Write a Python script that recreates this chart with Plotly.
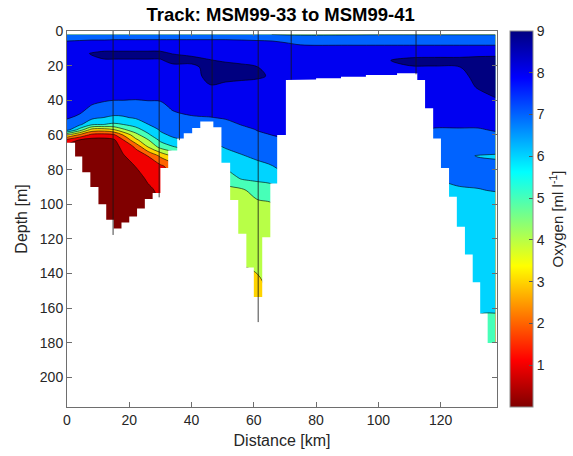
import numpy as np
import plotly.graph_objects as go

# ---------------- data ----------------
distance_km = [0, 4, 8, 12, 15, 18, 22, 26, 30, 34, 40, 46, 51, 56, 61, 66,
               75, 90, 102, 110, 118, 126, 132, 137.6]
depth_m = [2, 4, 7, 10, 13, 17, 21, 26, 32, 38, 44, 50, 54, 57, 60, 63, 67,
           72, 78, 85, 92, 100, 115, 135, 150, 165, 182]

# one oxygen profile (ml/l) per distance, values at depth_m
oxygen_profiles = [
    [7.6, 7.7, 8.2, 8.6, 8.7, 8.75, 8.8, 8.85, 8.8, 8.7, 8.5, 8.1, 7.6, 7.4, 4.05, 1.6, 0.6, 0.45, 0.4, 0.4, 0.4, 0.4, 0.4, 0.4, 0.4, 0.4, 0.4],
    [7.6, 7.75, 8.25, 8.6, 8.8, 8.85, 8.8, 8.85, 8.8, 8.7, 8.4, 7.8, 7.2, 5.6, 2.8, 0.9, 0.5, 0.4, 0.35, 0.35, 0.35, 0.35, 0.35, 0.35, 0.35, 0.35, 0.35],
    [7.6, 7.8, 8.3, 8.7, 9.05, 8.85, 8.8, 8.8, 8.75, 8.5, 7.85, 7.25, 6.1, 3.6, 1.7, 0.6, 0.4, 0.35, 0.3, 0.3, 0.3, 0.3, 0.3, 0.3, 0.3, 0.3, 0.3],
    [7.6, 7.8, 8.3, 8.75, 9.2, 8.95, 8.8, 8.75, 8.65, 8.25, 7.7, 6.98, 5.98, 3.5, 1.6, 0.6, 0.4, 0.35, 0.3, 0.3, 0.3, 0.3, 0.3, 0.3, 0.3, 0.3, 0.3],
    [7.65, 7.85, 8.3, 8.75, 9.2, 8.95, 8.8, 8.75, 8.6, 8.2, 7.6, 6.85, 5.8, 3.9, 1.8, 0.8, 0.5, 0.4, 0.35, 0.3, 0.3, 0.3, 0.3, 0.3, 0.3, 0.3, 0.3],
    [7.65, 7.85, 8.3, 8.75, 9.2, 8.95, 8.8, 8.75, 8.6, 8.2, 7.6, 6.9, 5.98, 4.8, 3.02, 1.9, 1.3, 0.9, 0.6, 0.4, 0.35, 0.3, 0.3, 0.3, 0.3, 0.3, 0.3],
    [7.65, 7.85, 8.3, 8.75, 9.2, 8.95, 8.8, 8.7, 8.55, 8.15, 7.6, 7.1, 6.35, 5.6, 4.6, 3.7, 2.1, 1.6, 1.02, 0.6, 0.4, 0.35, 0.3, 0.3, 0.3, 0.3, 0.3],
    [7.65, 7.85, 8.3, 8.75, 9.2, 8.95, 8.8, 8.7, 8.55, 8.15, 7.75, 7.35, 6.98, 6.4, 5.8, 4.9, 3.98, 2.02, 1.6, 1.15, 0.8, 0.5, 0.4, 0.35, 0.3, 0.3, 0.3],
    [7.65, 7.85, 8.3, 8.75, 9.2, 8.95, 8.8, 8.7, 8.5, 8.15, 7.8, 7.45, 7.25, 7.1, 6.8, 6.2, 5.3, 3.2, 1.8, 1.4, 1.2, 1.1, 1.05, 1.05, 1.05, 1.05, 1.05],
    [7.65, 7.85, 8.3, 8.75, 8.98, 9.15, 8.85, 8.7, 8.5, 8.3, 8.1, 7.8, 7.55, 7.35, 7.15, 6.8, 5.9, 4.2, 2.5, 2.02, 1.8, 1.7, 1.6, 1.6, 1.6, 1.6, 1.6],
    [7.65, 7.85, 8.3, 8.7, 8.9, 9.15, 8.85, 8.7, 8.55, 8.35, 8.2, 7.95, 7.7, 7.5, 7.3, 7.1, 6.5, 5.5, 4.5, 4.3, 4.2, 4.1, 4.1, 4.1, 4.1, 4.1, 4.1],
    [7.65, 7.85, 8.3, 8.65, 8.85, 9.02, 9.2, 9.25, 8.95, 8.6, 8.3, 7.98, 7.7, 7.5, 7.3, 7.1, 6.6, 5.98, 5.3, 4.8, 4.6, 4.5, 4.4, 4.3, 4.2, 4.1, 4.05],
    [7.65, 7.85, 8.3, 8.6, 8.8, 8.95, 9.15, 9.2, 8.85, 8.55, 8.3, 8.05, 7.85, 7.7, 7.5, 7.3, 7.1, 6.5, 6.15, 5.4, 4.7, 4.5, 4.4, 4.3, 4.2, 4.1, 4.05],
    [7.65, 7.8, 8.3, 8.55, 8.75, 8.9, 9.1, 9.15, 8.8, 8.5, 8.25, 8.1, 8.02, 7.8, 7.6, 7.45, 7.25, 6.95, 6.6, 6.1, 4.8, 4.6, 4.4, 4.05, 3.5, 3.3, 3.2],
    [7.6, 7.75, 8.25, 8.5, 8.7, 8.85, 9.02, 9.1, 8.75, 8.5, 8.3, 8.15, 8.07, 8.02, 7.9, 7.7, 7.45, 7.15, 6.8, 6.2, 5.45, 4.75, 4.5, 4.15, 3.7, 3.5, 3.4],
    [6.97, 7.7, 8.2, 8.45, 8.6, 8.75, 8.85, 8.92, 8.75, 8.5, 8.35, 8.2, 8.12, 8.07, 8.01, 7.85, 7.6, 7.35, 6.98, 6.3, 5.7, 4.95, 4.6, 4.35, 4.2, 4.1, 4.05],
    [6.85, 7.55, 7.85, 8.3, 8.5, 8.6, 8.65, 8.7, 8.7, 8.7, 8.6, 8.5, 8.4, 8.3, 8.2, 8.1, 8.02, 7.9, 7.8, 7.5, 7.1, 6.9, 6.6, 6.4, 6.3, 6.2, 6.1],
    [6.9, 7.55, 7.8, 8.3, 8.55, 8.65, 8.7, 8.7, 8.7, 8.7, 8.6, 8.5, 8.4, 8.3, 8.2, 8.1, 8.05, 7.9, 7.8, 7.5, 7.1, 6.9, 6.6, 6.4, 6.3, 6.2, 6.1],
    [6.95, 7.55, 7.8, 8.3, 8.6, 8.95, 8.85, 8.75, 8.7, 8.7, 8.6, 8.5, 8.4, 8.3, 8.2, 8.1, 8.05, 7.9, 7.8, 7.5, 7.1, 6.9, 6.6, 6.4, 6.3, 6.2, 6.1],
    [6.95, 7.55, 7.8, 8.3, 8.75, 9.15, 8.95, 8.8, 8.75, 8.7, 8.6, 8.45, 8.3, 8.15, 8.05, 7.9, 7.7, 7.4, 7.2, 7.1, 6.95, 6.8, 6.6, 6.5, 6.4, 6.3, 6.2],
    [6.95, 7.55, 7.8, 8.3, 8.75, 9.2, 8.95, 8.85, 8.75, 8.65, 8.5, 8.3, 8.1, 7.95, 7.8, 7.65, 7.45, 7.2, 7.1, 7.02, 6.9, 6.7, 6.6, 6.5, 6.4, 6.3, 6.2],
    [6.95, 7.55, 7.8, 8.3, 8.75, 9.2, 8.98, 8.85, 8.75, 8.6, 8.45, 8.25, 8.1, 7.95, 7.85, 7.7, 7.5, 7.15, 7.25, 7.1, 6.95, 6.7, 6.6, 6.5, 6.45, 6.4, 6.3],
    [6.95, 7.55, 7.8, 8.3, 8.8, 9.25, 9.2, 9.15, 9.05, 8.85, 8.6, 8.3, 8.1, 7.95, 7.85, 7.7, 7.5, 6.97, 7.2, 7.1, 6.98, 6.6, 6.5, 6.4, 6.3, 5.97, 5.7],
    [6.95, 7.55, 7.8, 8.3, 8.8, 9.3, 9.25, 9.2, 9.1, 9.02, 8.75, 8.4, 8.2, 8.05, 7.9, 7.75, 7.5, 6.9, 7.2, 7.1, 7.02, 6.8, 6.6, 6.45, 6.3, 5.95, 5.6],
]

# sea-floor (last valid data depth) as steps between these distances
bottom_edges_km = [0, 2.6, 4.9, 7.5, 10.1, 12.6, 15, 17.5, 20, 22.5, 25, 27.5, 30,
                   32.5, 35.4, 37.5, 40.2, 42.8, 47, 49.6, 52.4, 55, 57.6, 60,
                   62.7, 65.3, 67.5, 70.3, 72.5, 75, 77.5, 80, 85, 88, 96, 100,
                   106, 112.5, 115, 117.6, 120.1, 122.7, 125.2, 127.8, 130.3,
                   132.7, 135.1, 137.6]
bottom_depth_m = [64.5, 72.5, 81.5, 90, 100, 109, 114, 110.5, 107, 102.5, 97,
                  93.5, 79, 69, 62, 59, 56, 52.3, 55.5, 76, 97.5, 117, 136.5,
                  153.5, 119, 88, 60, 28.3, 28.3, 28.3, 28, 27.3, 27.3, 26.4,
                  25.4, 25.4, 24.4, 28.3, 44.6, 62, 79, 95.6, 113, 129, 145,
                  163, 180]

# CTD stations (distance, cast depth)
station_km = [14.8, 29.6, 36.1, 46.6, 61.4, 72.0, 112.1]
station_depth_m = [117.7, 96, 63, 50, 168, 28, 25]

contour_levels = dict(start=1, end=9, size=1)
x_ticks = [0, 20, 40, 60, 80, 100, 120]
y_ticks = [0, 20, 40, 60, 80, 100, 120, 140, 160, 180, 200]
cbar_ticks = [1, 2, 3, 4, 5, 6, 7, 8, 9]

# ---------------- styling ----------------
FONT = "Liberation Sans, Arial, Helvetica, sans-serif"
TXT = "#262626"
AX = "#6e6e6e"

# colour of each filled band (flipped MATLAB jet sampled at band's lower level)
band_colors = ['rgb(128,0,0)', 'rgb(241,0,0)', 'rgb(255,99,0)', 'rgb(255,212,0)',
               'rgb(184,255,71)', 'rgb(71,255,184)', 'rgb(0,212,255)',
               'rgb(0,99,255)', 'rgb(0,0,241)', 'rgb(0,0,128)']
band_scale = []
for k, c in enumerate(band_colors):
    lo = max(0.0, (k - 0.5) / 9.0)
    hi = min(1.0, (k + 0.5) / 9.0)
    band_scale.append([lo, c])
    band_scale.append([hi, c])

jet_r = [[0.0, 'rgb(128,0,0)'], [0.125, 'rgb(255,0,0)'], [0.375, 'rgb(255,255,0)'],
         [0.625, 'rgb(0,255,255)'], [0.875, 'rgb(0,0,255)'], [1.0, 'rgb(0,0,128)']]

z = np.array(oxygen_profiles).T  # rows = depth, cols = distance

fig = go.Figure()

fig.add_trace(go.Contour(
    x=distance_km, y=depth_m, z=z,
    autocontour=False, contours=dict(coloring='fill', showlines=True, **contour_levels),
    line=dict(color='black', width=0.6),
    colorscale=band_scale, zauto=False, zmin=0.5, zmax=9.5,
    showscale=False, hoverinfo='skip'))

# white sea floor mask
mx, my = [-1, -1], [240, bottom_depth_m[0]]
for i, d in enumerate(bottom_depth_m):
    mx += [bottom_edges_km[i], bottom_edges_km[i + 1]]
    my += [d, d]
mx += [140, 140]
my += [bottom_depth_m[-1], 240]
fig.add_trace(go.Scatter(x=mx, y=my, mode='lines', fill='toself',
                         fillcolor='white', line=dict(width=0, color='white'),
                         hoverinfo='skip', showlegend=False))

# station lines
sx, sy = [], []
for s, d in zip(station_km, station_depth_m):
    sx += [s, s, None]
    sy += [0, d, None]
fig.add_trace(go.Scatter(x=sx, y=sy, mode='lines',
                         line=dict(color='rgba(20,20,20,0.8)', width=1),
                         hoverinfo='skip', showlegend=False))

# continuous colour bar
fig.add_trace(go.Scatter(
    x=[150], y=[300], mode='markers', hoverinfo='skip', showlegend=False,
    marker=dict(size=1, opacity=0, color=[0], cmin=0, cmax=9, colorscale=jet_r,
                showscale=True,
                colorbar=dict(x=1.0302, xanchor='left', xpad=0, y=0.5, yanchor='middle',
                              ypad=0, len=1, lenmode='fraction', thickness=23,
                              outlinewidth=1, outlinecolor='#8c8c8c',
                              tickvals=cbar_ticks, ticks='inside', ticklen=4,
                              tickcolor='#555555',
                              tickfont=dict(family=FONT, size=14, color=TXT),
                              title=dict(text='Oxygen [ml l<sup>-1</sup>]', side='right',
                                         font=dict(family=FONT, size=15, color=TXT))))))

axis_common = dict(showgrid=False, zeroline=False, showline=True, linecolor=AX,
                   linewidth=1, mirror='ticks', ticks='inside', ticklen=5,
                   tickcolor=AX, automargin=False,
                   tickfont=dict(family=FONT, size=14, color=TXT))

fig.update_layout(
    width=573, height=456,
    margin=dict(l=67, r=76, t=31, b=49, autoexpand=False),
    paper_bgcolor='white', plot_bgcolor='white',
    font=dict(family=FONT, color=TXT),
    hovermode=False,
    title=dict(text='<b>Track: MSM99-33 to MSM99-41</b>', x=0.4898, xanchor='center',
               y=0.968, yref='container', yanchor='middle',
               font=dict(family=FONT, size=18.5, color='black')),
    xaxis=dict(range=[0, 138.1], tickvals=x_ticks,
               title=dict(text='Distance [km]', standoff=8,
                          font=dict(family=FONT, size=16, color=TXT)),
               **axis_common),
    yaxis=dict(range=[217, 0], tickvals=y_ticks,
               title=dict(text='Depth [m]', standoff=8,
                          font=dict(family=FONT, size=16, color=TXT)),
               **axis_common),
)

fig.write_html("out.html", config={'displayModeBar': False},
               post_script="document.body.style.margin='0px';document.body.style.padding='0px';")
